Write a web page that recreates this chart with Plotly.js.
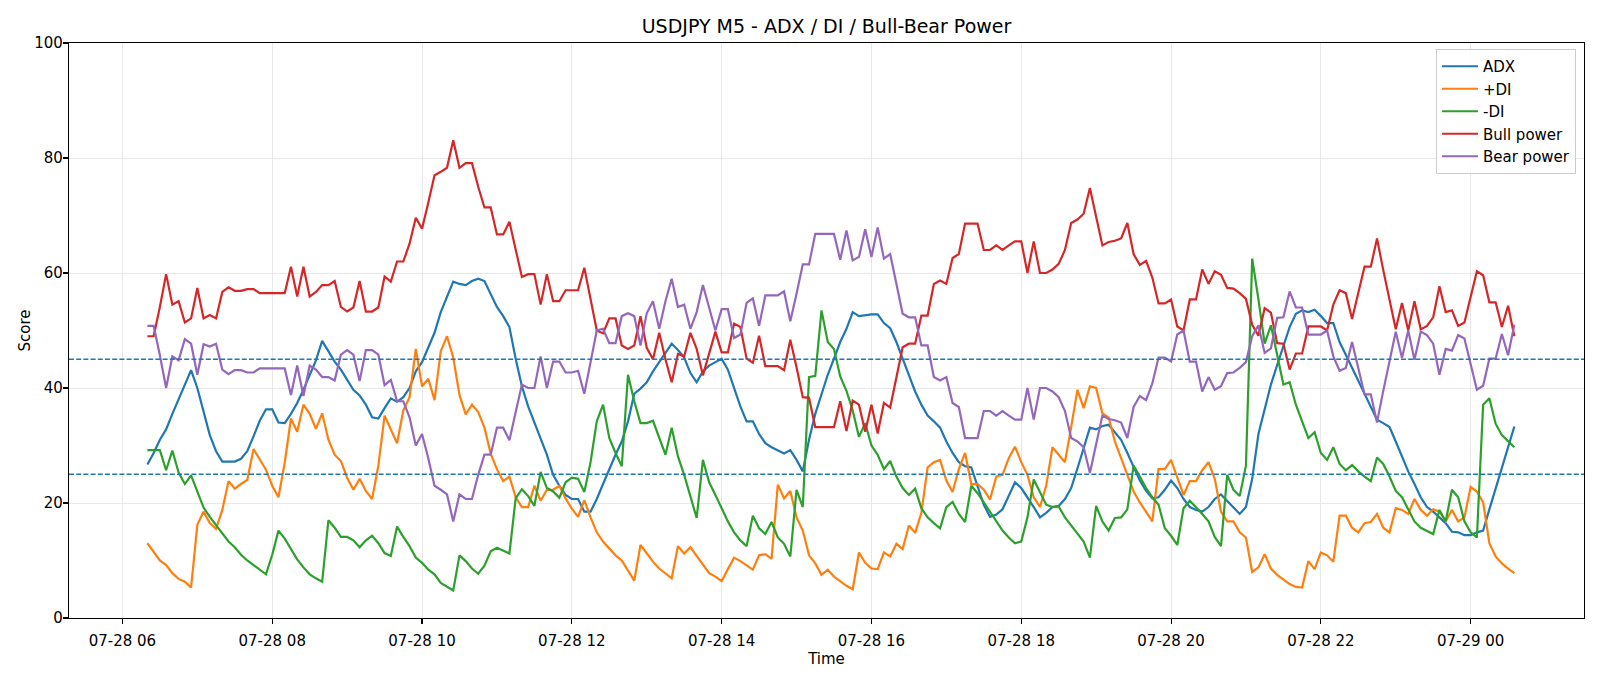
<!DOCTYPE html>
<html>
<head>
<meta charset="utf-8">
<script src="https://cdn.plot.ly/plotly-3.0.1.min.js"></script>
<style>html,body{margin:0;padding:0;background:#fff;}#chart{width:1600px;height:686px;}</style>
</head>
<body>
<div id="chart"></div>
<script>
// ---- data (M5 bars, first bar 2025-07-28 06:20, 5-minute spacing) ----
const firstBar = {day: 28, hour: 6, minute: 20};
const barMinutes = 5;

const adx = [26.7,28.7,31.0,32.8,35.5,38.0,40.3,43.1,40.0,35.8,31.8,29.0,27.2,27.2,27.2,27.7,29.0,31.6,34.3,36.3,
36.3,34.0,33.9,35.5,37.4,39.7,42.3,44.8,48.2,46.4,44.6,43.2,41.4,39.7,38.7,37.1,34.9,34.7,36.5,38.2,
37.6,38.4,40.0,42.9,44.5,47.1,49.6,53.2,55.8,58.5,58.1,57.9,58.6,59.0,58.6,56.4,54.1,52.5,50.6,45.1,
40.3,36.8,33.9,31.3,28.4,24.9,23.0,21.4,20.7,20.7,18.5,18.5,20.7,23.3,25.9,28.4,30.7,34.2,39.0,39.9,
41.0,42.9,44.5,46.1,47.7,46.6,45.3,42.6,41.0,42.9,43.9,44.5,45.1,43.2,40.0,36.8,34.2,34.2,32.0,30.4,
29.7,29.2,28.6,29.2,27.5,25.5,31.0,35.5,39.0,42.3,45.1,48.0,50.3,53.2,52.5,52.7,52.8,52.8,51.3,50.4,
48.0,45.1,42.3,39.4,37.1,35.2,34.2,33.1,30.7,28.7,27.1,26.4,26.2,23.0,19.7,17.6,18.0,18.9,21.2,23.6,
22.6,21.0,19.3,17.5,18.3,19.3,19.5,20.7,22.6,26.0,29.4,33.1,32.8,33.4,33.6,32.3,31.0,28.7,26.2,23.9,
22.1,20.8,21.0,22.3,23.9,22.6,20.7,19.3,18.8,18.5,19.3,20.7,21.5,20.4,19.3,18.1,19.3,24.2,32.0,36.1,
40.6,44.0,47.4,50.6,52.9,53.5,53.2,53.6,52.5,51.3,51.3,48.0,45.8,43.5,41.3,39.0,36.8,34.5,33.9,33.2,
30.7,28.1,25.5,23.3,21.0,19.3,18.5,17.5,16.5,15.0,14.9,14.4,14.4,14.9,15.2,18.9,22.5,26.1,29.7,33.3];

const plusDI = [13.0,11.5,10.0,9.2,7.8,6.8,6.3,5.3,16.2,18.5,16.5,15.5,18.8,23.8,22.5,23.3,24.0,29.4,27.5,25.8,
23.0,21.0,27.0,34.7,32.4,37.1,35.5,32.9,35.6,31.0,28.4,27.3,24.4,22.3,24.2,22.1,20.7,26.5,35.2,32.9,
30.4,36.1,38.4,46.8,40.3,41.6,37.9,46.4,49.0,45.3,38.8,35.4,37.1,35.8,33.1,28.6,25.9,23.8,24.6,21.0,
19.3,19.3,23.0,20.4,22.3,22.3,23.0,20.8,19.0,17.6,20.5,17.5,14.9,13.3,12.0,10.9,10.0,8.2,6.5,12.7,
11.2,9.8,8.6,7.8,6.9,12.5,11.2,12.3,10.8,9.1,7.8,7.2,6.4,8.5,10.5,9.9,9.1,8.4,10.9,11.1,
10.3,23.2,20.8,22.1,17.5,15.2,10.9,9.5,7.5,8.4,7.2,6.4,5.6,5.0,11.4,9.6,8.6,8.5,11.4,10.7,
12.9,12.0,16.1,14.8,18.3,26.2,27.1,27.5,23.9,21.9,25.9,28.7,23.3,23.3,22.3,20.6,24.6,24.9,27.8,29.8,
27.1,24.9,21.0,19.3,23.0,29.7,28.4,27.1,33.2,39.7,36.5,40.3,40.0,35.6,34.9,30.7,27.8,24.9,22.0,20.1,
18.5,16.8,25.9,25.9,27.5,24.6,21.4,23.8,23.8,25.7,27.1,24.2,18.5,16.8,16.8,14.9,14.0,8.0,8.8,11.1,
8.6,7.5,6.7,5.9,5.4,5.3,9.9,8.5,11.4,10.9,9.8,17.8,17.8,15.7,14.9,16.5,16.7,18.1,15.7,14.9,
19.1,18.8,18.1,20.7,18.8,17.8,18.9,18.5,16.8,18.8,16.8,17.5,22.8,22.0,20.1,13.0,10.7,9.5,8.6,7.8];

const minusDI = [29.2,29.2,29.2,25.7,29.1,25.3,23.3,24.8,22.0,19.2,17.6,16.2,14.6,13.3,12.3,11.0,10.0,9.2,8.5,7.6,
11.0,15.2,13.8,11.9,10.2,8.8,7.6,6.9,6.3,17.0,15.7,14.1,14.1,13.5,12.3,13.5,14.3,13.0,11.3,10.8,
15.9,14.1,12.5,10.5,9.6,8.4,7.6,6.1,5.5,4.8,10.9,9.9,8.6,7.7,9.1,11.6,12.2,11.7,11.2,20.8,
22.4,21.2,19.5,25.4,22.6,22.0,20.9,23.6,24.4,24.2,21.9,27.1,34.2,37.1,31.3,28.7,26.4,42.3,37.7,33.9,
33.9,34.3,31.3,28.4,33.1,28.1,24.9,21.0,17.4,27.5,23.6,21.4,19.1,16.8,14.9,13.5,12.5,17.8,15.6,14.6,
16.7,14.0,12.9,10.7,22.3,19.3,41.9,42.1,53.5,48.0,46.8,42.0,39.5,36.1,31.5,33.9,30.0,28.4,25.9,27.3,
24.6,22.6,21.4,22.5,19.1,17.5,16.5,15.6,19.3,20.2,18.1,16.7,23.0,21.7,20.1,18.5,16.8,15.2,14.0,13.0,
13.3,17.5,24.1,22.0,19.7,19.3,19.4,17.5,16.1,14.9,13.3,10.5,19.5,16.8,15.2,17.4,17.5,18.9,26.5,24.6,
22.6,21.0,19.7,15.6,14.3,12.7,19.1,20.4,19.3,18.1,16.8,14.1,12.5,24.9,22.3,21.2,26.5,62.5,55.4,47.7,
50.9,45.8,40.6,41.0,37.1,34.2,31.3,32.3,28.7,27.5,29.7,26.8,25.7,26.6,25.5,24.6,23.8,27.9,26.8,24.6,
22.1,21.0,18.8,16.8,15.7,15.2,14.6,18.8,16.8,22.3,21.0,16.8,14.9,14.0,37.1,38.2,33.8,31.8,30.8,29.7];

const bullPower = [49.0,49.0,54.1,59.8,54.5,55.1,51.4,52.1,57.4,52.1,52.7,52.1,56.7,57.5,56.9,56.9,57.2,57.2,56.5,56.5,
56.5,56.5,56.5,61.1,55.9,61.1,55.9,56.7,57.9,57.9,58.6,54.1,53.3,54.0,58.6,53.3,53.3,54.0,59.4,58.5,
62.0,62.0,65.1,69.6,67.7,72.2,77.0,77.6,78.3,83.1,78.3,79.1,79.1,75.0,71.4,71.4,66.7,66.7,68.9,64.1,
59.3,59.8,59.8,54.5,59.8,55.1,55.1,57.0,57.0,57.0,60.9,55.4,50.0,49.5,52.1,52.1,47.4,46.8,47.4,52.5,
47.0,45.0,49.6,45.0,41.0,45.9,45.5,49.6,46.8,42.2,46.0,49.8,46.2,46.2,51.2,50.6,45.1,44.4,49.1,43.8,
43.8,43.8,43.1,48.4,43.6,38.4,38.3,33.2,33.2,33.2,33.2,37.7,32.5,37.8,37.1,32.4,37.1,32.1,37.4,36.6,
42.0,47.1,47.7,47.7,52.6,52.6,58.1,58.7,58.1,62.6,63.3,68.6,68.6,68.6,64.0,64.0,64.8,64.0,64.8,65.5,
65.5,60.0,65.5,60.0,60.0,60.6,61.6,64.0,68.7,69.3,70.3,74.8,69.8,64.8,65.4,65.6,66.0,68.7,63.3,61.4,
62.1,59.2,54.7,54.7,55.4,50.7,50.0,55.4,55.4,60.6,58.1,60.3,59.7,57.4,57.3,56.5,55.5,51.0,49.1,53.9,
53.1,47.8,47.7,43.2,46.0,46.0,50.7,50.7,50.7,50.0,54.5,57.0,56.5,52.0,56.6,61.1,61.1,66.0,60.5,55.5,
50.2,54.8,50.0,55.1,50.2,50.8,52.3,57.7,53.2,53.5,50.8,51.4,56.1,60.3,59.6,54.9,54.9,50.6,54.3,49.0];

const bearPower = [50.8,50.8,45.7,40.0,45.5,44.8,48.5,47.7,42.3,47.6,47.2,47.7,43.2,42.4,43.1,43.1,42.7,42.7,43.4,43.4,
43.4,43.4,43.4,38.8,43.9,38.6,43.9,43.2,41.9,41.9,41.3,45.8,46.6,45.8,41.2,46.6,46.6,45.8,40.5,41.4,
37.7,37.7,34.9,30.0,32.0,27.8,23.0,22.3,21.5,16.8,21.5,20.7,20.7,24.9,28.4,28.4,33.1,33.1,30.9,35.8,
40.6,40.0,40.0,45.5,40.0,44.6,44.6,42.7,42.7,43.0,39.0,44.5,50.0,50.3,47.8,47.8,52.5,53.0,52.5,47.4,
53.0,55.1,50.3,55.1,59.0,54.1,54.5,50.3,53.2,57.9,54.0,50.0,53.7,53.7,48.7,49.3,54.8,55.6,50.8,56.1,
56.1,56.1,56.8,51.6,56.4,61.5,61.5,66.8,66.8,66.8,66.8,62.3,67.4,62.2,62.8,67.6,62.8,67.9,62.5,63.3,
58.0,52.9,52.3,52.3,47.4,47.4,41.9,41.3,41.9,37.4,36.7,31.3,31.3,31.3,36.0,36.0,35.2,36.0,35.2,34.5,
34.5,40.0,34.5,40.0,40.0,39.4,38.4,36.0,31.3,30.7,29.7,25.2,30.2,35.2,34.6,34.4,34.0,31.3,36.7,38.6,
37.9,40.8,45.3,45.3,44.6,49.3,50.0,44.6,44.6,39.4,41.9,39.7,40.3,42.6,42.7,43.5,44.5,49.0,50.9,46.1,
46.9,52.2,52.3,56.8,54.0,54.0,49.3,49.3,49.3,50.0,45.5,43.0,43.5,48.0,43.4,38.9,38.9,34.0,39.5,44.5,
49.8,45.2,50.0,44.9,49.8,49.2,47.7,42.3,46.8,46.5,49.2,48.6,43.9,39.7,40.4,45.1,45.1,49.4,45.7,51.0];

const refLevels = [45, 25];
const seriesNames = ['ADX', '+DI', '-DI', 'Bull power', 'Bear power'];
const seriesColors = ['#1f77b4', '#ff7f0e', '#2ca02c', '#d62728', '#9467bd'];

// ---- build timestamps ----
function pad(n){ return (n < 10 ? '0' : '') + n; }
function barTime(i){
  const total = firstBar.hour * 60 + firstBar.minute + barMinutes * i;
  const day = firstBar.day + Math.floor(total / 1440);
  const m = total % 1440;
  return '2025-07-' + pad(day) + ' ' + pad(Math.floor(m / 60)) + ':' + pad(m % 60) + ':00';
}
const times = adx.map((_, i) => barTime(i));

const allSeries = [adx, plusDI, minusDI, bullPower, bearPower];
const traces = allSeries.map((ys, k) => ({
  type: 'scatter', mode: 'lines', x: times, y: ys, name: seriesNames[k],
  legendgroup: 'g' + k,
  line: {color: seriesColors[k], width: 2.2}
}));

const tickFont = {family: 'DejaVu Sans, sans-serif', size: 15, color: '#000'};

const layout = {
  width: 1600, height: 686,
  margin: {l: 69, r: 16, t: 43, b: 68, pad: 0},
  paper_bgcolor: '#fff', plot_bgcolor: '#fff',
  font: tickFont,
  showlegend: true,
  title: {text: 'USDJPY M5 - ADX / DI / Bull-Bear Power', font: {family: 'DejaVu Sans, sans-serif', size: 19, color: '#000'},
          x: 0.5, xref: 'paper', xanchor: 'center', y: 1 - 26.5/686, yref: 'container', yanchor: 'middle'},
  xaxis: {
    type: 'date', range: ['2025-07-28 05:17:12', '2025-07-29 01:30:48'],
    tick0: '2025-07-28 06:00:00', dtick: 7200000, tickformat: '%m-%d %H',
    ticks: 'outside', ticklen: 5, tickwidth: 1.1, tickcolor: '#000',
    ticklabelstandoff: 4,
    showgrid: true, gridcolor: '#e8e8e8', gridwidth: 1,
    showline: true, mirror: true, linecolor: '#000', linewidth: 1.1,
    zeroline: false, tickfont: tickFont,
    title: {text: 'Time', font: tickFont, standoff: 0}
  },
  yaxis: {
    range: [0, 100], dtick: 20, tick0: 0,
    ticks: 'outside', ticklen: 5, tickwidth: 1.1, tickcolor: '#000',
    ticklabelstandoff: -3,
    showgrid: true, gridcolor: '#e8e8e8', gridwidth: 1,
    showline: true, mirror: true, linecolor: '#000', linewidth: 1.1,
    zeroline: false, tickfont: tickFont,
    title: {text: 'Score', font: tickFont, standoff: 0}
  },
  shapes: refLevels.map(v => ({
    type: 'line', xref: 'paper', x0: 0, x1: 1, yref: 'y', y0: v, y1: v,
    line: {color: '#1f77b4', width: 1.4, dash: '5px,2.2px'}, layer: 'above'
  })),
  legend: {
    x: 0.9947, y: 0.9896, xanchor: 'right', yanchor: 'top',
    bgcolor: 'rgba(255,255,255,0.85)', bordercolor: '#cccccc', borderwidth: 1,
    font: {family: 'DejaVu Sans, sans-serif', size: 15, color: '#000'},
    tracegroupgap: 0, itemwidth: 36
  }
};

Plotly.newPlot('chart', traces, layout, {displayModeBar: false, staticPlot: true});
</script>
</body>
</html>
